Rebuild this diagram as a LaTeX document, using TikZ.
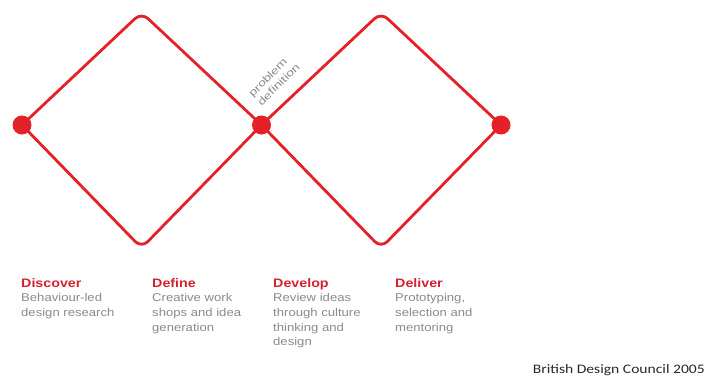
\documentclass[tikz,border=0pt]{standalone}
\usepackage{fontspec}
\setmainfont{Liberation Sans}
\newfontfamily\widesans[FakeStretch=1.16]{Liberation Sans}
\newfontfamily\labelsans[FakeStretch=1.3]{Liberation Sans}
\newfontfamily\creditfont[FakeStretch=1.2]{Carlito}
\usetikzlibrary{backgrounds}
\definecolor{dcred}{RGB}{228,32,41}
\definecolor{headred}{RGB}{214,32,48}
\definecolor{bodygray}{RGB}{138,138,138}
\definecolor{creditgray}{RGB}{40,40,40}
\tikzset{
  dot/.style={circle, fill=dcred, minimum size=19pt, inner sep=0pt},
  diamondline/.style={draw=dcred, line width=2.8pt, rounded corners=9pt},
  phase/.style={anchor=north west, align=left, inner sep=0pt, text=bodygray,
    font=\widesans\fontsize{11.3}{14.7}\selectfont},
}
\newcommand{\phasehead}[1]{{\fontsize{12.3}{14.7}\selectfont\bfseries\color{headred}#1}}
\begin{document}
\begin{tikzpicture}[x=1pt, y=-1pt]
  \useasboundingbox (0,0) rectangle (709,378);
  % the three stage points
  \node[dot] (L) at (22,125) {};
  \node[dot] (C) at (261.5,125) {};
  \node[dot] (R) at (501,125) {};
  % diamond apexes
  \coordinate (t1) at (141.5,12.5);
  \coordinate (b1) at (141.5,248);
  \coordinate (t2) at (381,12.5);
  \coordinate (b2) at (381,248);
  % the double diamond, behind the dots
  \begin{pgfonlayer}{background}
    \draw[diamondline] (L.center) -- (t1) -- (C.center);
    \draw[diamondline] (L.center) -- (b1) -- (C.center);
    \draw[diamondline] (C.center) -- (t2) -- (R.center);
    \draw[diamondline] (C.center) -- (b2) -- (R.center);
  \end{pgfonlayer}
  % label at the middle point
  \node[rotate=45, align=left, inner sep=0pt, text=bodygray,
        font=\labelsans\fontsize{10.5}{12.5}\selectfont] (pd) at (274,80) {problem\\definition};
  % phase descriptions
  \node[phase] (discover) at (21,278) {\phasehead{Discover}\\Behaviour-led\\design research};
  \node[phase] (define) at (152,278) {\phasehead{Define}\\Creative work\\shops and idea\\generation};
  \node[phase] (develop) at (273,278) {\phasehead{Develop}\\Review ideas\\through culture\\thinking and\\design};
  \node[phase] (deliver) at (395,278) {\phasehead{Deliver}\\Prototyping,\\selection and\\mentoring};
  % source note
  \node[anchor=base east, inner sep=0pt, text=creditgray,
        font=\creditfont\fontsize{13}{15}\selectfont] (credit) at (705,373) {British Design Council 2005};
\end{tikzpicture}
\end{document}
